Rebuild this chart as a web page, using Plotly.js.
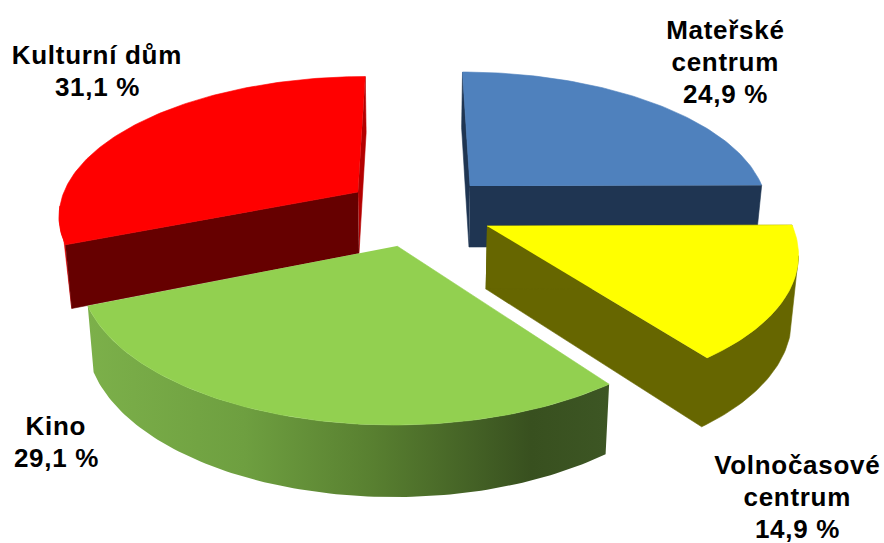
<!DOCTYPE html>
<html>
<head>
<meta charset="utf-8">
<script src="https://cdn.plot.ly/plotly-3.0.1.min.js"></script>
<style>html,body{margin:0;padding:0;background:#fff}#chart{width:884px;height:543px}
.annotation text{letter-spacing:0.7px}</style>
</head>
<body>
<div id="chart"></div>
<script>
// Chart data, clockwise from twelve o'clock
const categories = [['Mateřské', 'centrum'], ['Volnočasové', 'centrum'], ['Kino'], ['Kulturní dům']];
const shares = [24.9, 14.9, 29.1, 31.1];
const valueLabels = ['24,9 %', '14,9 %', '29,1 %', '31,1 %'];

// Styling per slice
const topColors = ['#4F81BD', '#FFFF00', '#92D050', '#FF0000'];
const rimColors = ['#1F3552', '#666600', null, '#F00000'];
const startCutColors = ['#1F3552', '#666600', null, '#660000'];
const endCutColors = ['#1F3552', '#666600', null, '#B40000'];
const drawOrder = [3, 0, 2, 1];

// Exploded slice apex on screen-space scale
const apexX = [470, 487, 397, 358];
const apexY = [186, 226, 246, 192];
const labelX = [725, 797, 56, 97];
const labelBaseline = [38, 473, 434, 63];
const lineStep = 32;

// Perspective camera
const horizon = -681, persp = 5727, radiusK = 0.3368, centreX = 413;

function project(i, deg) {
  const t = deg * Math.PI / 180;
  const hA = apexY[i] - horizon;
  const off = (apexX[i] - centreX) / hA;
  const h = persp / (persp / hA + Math.cos(t));
  return [centreX + (off + radiusK * Math.sin(t)) * h, horizon + h];
}
function apex(i) { return [apexX[i], apexY[i]]; }
function drop(p) {
  const h = p[1] - horizon;
  return [p[0] - (p[0] - centreX) * 0.018, p[1] + 61 + (h - 867) * 0.046];
}
function poly(pts, color, gradient) {
  const tr = {
    type: 'scatter', mode: 'lines', fill: 'toself', hoverinfo: 'skip',
    x: pts.map(p => p[0]), y: pts.map(p => p[1]),
    line: {width: gradient ? 0 : 0.6, color: color}
  };
  if (gradient) tr.fillgradient = gradient; else tr.fillcolor = color;
  return tr;
}

const bounds = [0];
shares.forEach(v => bounds.push(bounds[bounds.length - 1] + v * 3.6));

const traces = [];
drawOrder.forEach(i => {
  const a0 = bounds[i], a1 = bounds[i + 1];
  const arc = [];
  const n = Math.ceil(a1 - a0);
  for (let k = 0; k <= n; k++) arc.push(project(i, a0 + (a1 - a0) * k / n));
  const baseArc = arc.map(drop);
  const A = apex(i), B = drop(A);
  if (i === 3) {
    // only the sliver left of the front corner shows on this slice
    traces.push(poly(arc.slice(0, 17).concat([baseArc[0]]), rimColors[i]));
    traces.push(poly([A, arc[n], baseArc[n], B], endCutColors[i]));
  } else if (rimColors[i]) {
    // side wall from the rightmost arc point round to the front cut, as one shape
    let m = 0;
    arc.forEach((p, k) => { if (p[0] > arc[m][0]) m = k; });
    traces.push(poly([A].concat(arc.slice(m).reverse(), baseArc.slice(m), [B]), rimColors[i]));
  } else {
    traces.push(poly(arc.concat(baseArc.slice().reverse()), '#7CB04A', {
      type: 'horizontal',
      colorscale: [[0, '#7CB04A'], [0.3, '#6E9F40'], [0.55, '#587F30'], [0.85, '#38501F'], [1, '#3D5624']]
    }));
  }
  if (startCutColors[i]) traces.push(poly([A, arc[0], baseArc[0], B], startCutColors[i]));
  traces.push(poly([A].concat(arc), topColors[i]));
});

const annotations = [];
categories.forEach((lines, i) => {
  lines.concat([valueLabels[i]]).forEach((line, j) => {
    annotations.push({
      x: labelX[i], y: labelBaseline[i] + j * lineStep - 8.5, xref: 'x', yref: 'y', showarrow: false,
      text: '<b>' + line + '</b>', align: 'center', xanchor: 'center', yanchor: 'middle',
      font: {family: 'Liberation Sans, Arial, sans-serif', size: 26, color: '#000'}
    });
  });
});

Plotly.newPlot('chart', traces, {
  width: 884, height: 543, margin: {l: 0, r: 0, t: 0, b: 0},
  paper_bgcolor: '#fff', plot_bgcolor: '#fff', showlegend: false,
  xaxis: {range: [0, 884], visible: false, fixedrange: true},
  yaxis: {range: [543, 0], visible: false, fixedrange: true},
  annotations: annotations
}, {displayModeBar: false, staticPlot: true});
</script>
</body>
</html>
